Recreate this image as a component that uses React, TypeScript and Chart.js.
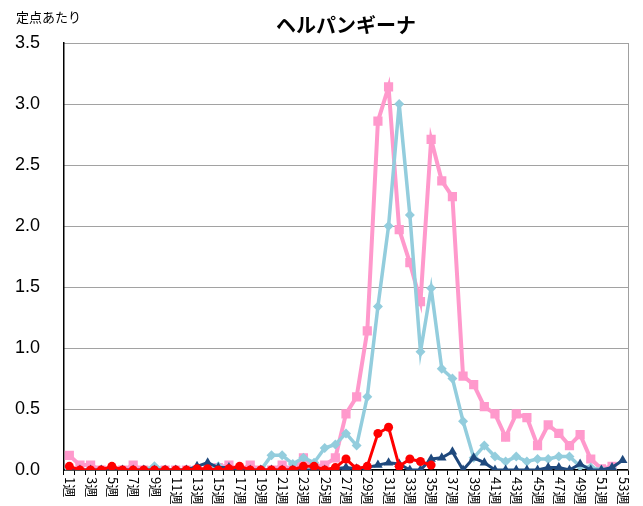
import React, { useEffect, useRef } from 'react';
import { Chart, registerables } from 'chart.js';

Chart.register(...registerables);

const chartTitle = 'ヘルパンギーナ';
const yUnitLabel = '定点あたり';

const weeks = [
  '1週', '2週', '3週', '4週', '5週', '6週', '7週', '8週', '9週', '10週',
  '11週', '12週', '13週', '14週', '15週', '16週', '17週', '18週', '19週', '20週',
  '21週', '22週', '23週', '24週', '25週', '26週', '27週', '28週', '29週', '30週',
  '31週', '32週', '33週', '34週', '35週', '36週', '37週', '38週', '39週', '40週',
  '41週', '42週', '43週', '44週', '45週', '46週', '47週', '48週', '49週', '50週',
  '51週', '52週', '53週',
];

const pinkSeries = [
  0.12, 0.04, 0.04, 0, 0, 0, 0.04, 0, 0, 0,
  0, 0, 0, 0, 0.02, 0.04, 0, 0.04, 0, 0,
  0.04, 0, 0.1, 0.03, 0.04, 0.1, 0.46, 0.6, 1.14, 2.86,
  3.14, 1.97, 1.7, 1.38, 2.71, 2.37, 2.24, 0.77, 0.7, 0.52,
  0.46, 0.27, 0.46, 0.43, 0.2, 0.37, 0.3, 0.2, 0.29, 0.09,
  0.01, 0.03, null,
];

const lightBlueSeries = [
  0, 0, 0, 0, 0, 0, 0, 0, 0.03, 0,
  0, 0, 0, 0, 0.03, 0, 0, 0, 0, 0.12,
  0.12, 0.05, 0.1, 0.06, 0.18, 0.21, 0.3, 0.2, 0.6, 1.34,
  2.0, 3.0, 2.09, 0.97, 1.49, 0.83, 0.75, 0.4, 0.1, 0.2,
  0.11, 0.07, 0.11, 0.07, 0.09, 0.09, 0.11, 0.11, 0.03, 0.02,
  0, 0.01, null,
];

const navySeries = [
  0, 0, 0, 0, 0, 0, 0, 0, 0, 0,
  0, 0, 0.03, 0.06, 0.02, 0.02, 0, 0, 0, 0,
  0, 0, 0, 0, 0, 0.01, 0.02, 0.01, 0.02, 0.04,
  0.06, 0.05, 0, 0, 0.09, 0.1, 0.15, 0, 0.1, 0.06,
  0, 0, 0, 0, 0, 0.02, 0.02, 0, 0.05, 0,
  0, 0.02, 0.08,
];

const redSeries = [
  0.03, 0, 0, 0, 0.03, 0, 0, 0, 0, 0,
  0, 0, 0.01, 0.01, 0, 0.01, 0.03, 0, 0, 0,
  0, 0, 0.03, 0.03, 0, 0.02, 0.09, 0.01, 0.03, 0.3,
  0.35, 0.03, 0.09, 0.07, 0.04, null, null, null, null, null,
  null, null, null, null, null, null, null, null, null, null,
  null, null, null,
];

const yMin = 0;
const yMax = 3.5;
const yStep = 0.5;

const decorPlugin = {
  id: 'decor',
  beforeDatasetsDraw(chart: any) {
    const { ctx, chartArea } = chart;
    ctx.save();
    ctx.strokeStyle = '#a0a0a0';
    ctx.lineWidth = 1;
    ctx.beginPath();
    ctx.moveTo(Math.round(chartArea.right) + 0.5, chartArea.top);
    ctx.lineTo(Math.round(chartArea.right) + 0.5, chartArea.bottom);
    ctx.stroke();
    ctx.restore();
  },
  afterDraw(chart: any) {
    const { ctx, chartArea } = chart;
    const x = chart.scales.x;
    ctx.save();
    ctx.fillStyle = '#000';
    ctx.font = 'bold 20px "Noto Sans CJK JP", sans-serif';
    ctx.textAlign = 'center';
    ctx.textBaseline = 'middle';
    ctx.fillText(chartTitle, (chartArea.left + chartArea.right) / 2, 25);

    ctx.font = '13px "Noto Sans CJK JP", sans-serif';
    ctx.textAlign = 'left';
    ctx.fillText(yUnitLabel, 16, 17);

    ctx.font = '13px "Noto Sans CJK JP", sans-serif';
    weeks.forEach((w, i) => {
      if (i % 2 !== 0) return;
      const px = x.getPixelForValue(i);
      ctx.save();
      ctx.translate(px + 1, chartArea.bottom + 7);
      ctx.rotate(Math.PI / 2);
      ctx.textAlign = 'left';
      ctx.textBaseline = 'middle';
      ctx.fillText(w, 0, 0);
      ctx.restore();
    });
    ctx.restore();
  },
};

export default function App() {
  const canvasRef = useRef<HTMLCanvasElement | null>(null);

  useEffect(() => {
    const canvas = canvasRef.current;
    if (!canvas) return;
    const chart = new Chart(canvas, {
      type: 'line',
      data: {
        labels: weeks,
        datasets: [
          {
            label: 'red',
            data: redSeries,
            borderColor: '#ff0000',
            backgroundColor: '#ff0000',
            pointStyle: 'circle',
            pointRadius: 4.5,
            borderWidth: 3,
            pointBorderWidth: 0,
            tension: 0,
            spanGaps: false,
          },
          {
            label: 'navy',
            data: navySeries,
            borderColor: '#1f497d',
            backgroundColor: '#1f497d',
            pointStyle: 'triangle',
            pointRadius: 5.5,
            borderWidth: 3,
            pointBorderWidth: 0,
            tension: 0,
          },
          {
            label: 'lightblue',
            data: lightBlueSeries,
            borderColor: '#93cddd',
            backgroundColor: '#93cddd',
            pointStyle: 'rectRot',
            pointRadius: 5,
            borderWidth: 3.5,
            pointBorderWidth: 0,
            tension: 0,
          },
          {
            label: 'pink',
            data: pinkSeries,
            borderColor: '#ff99cc',
            backgroundColor: '#ff99cc',
            pointStyle: 'rect',
            pointRadius: 6.5,
            borderWidth: 4,
            pointBorderWidth: 0,
            tension: 0,
          },
        ],
      },
      options: {
        animation: false,
        responsive: false,
        maintainAspectRatio: false,
        layout: { padding: { top: 43, right: 15, left: 0, bottom: 0 } },
        plugins: {
          legend: { display: false },
          title: { display: false },
          tooltip: { enabled: false },
        },
        scales: {
          x: {
            type: 'category',
            offset: true,
            grid: {
              display: true,
              offset: true,
              drawOnChartArea: false,
              drawTicks: true,
              tickLength: 5,
              color: '#000',
            },
            border: { display: true, color: '#000', width: 1.5 },
            ticks: { display: false, autoSkip: false },
            afterFit: (scale: any) => {
              scale.height = 36;
            },
          },
          y: {
            min: yMin,
            max: yMax,
            grid: {
              color: '#444',
              lineWidth: 1,
              drawTicks: false,
            },
            border: { display: true, color: '#000', width: 1.5, dash: [1, 1] },
            ticks: {
              stepSize: yStep,
              padding: 24,
              color: '#000',
              font: { family: '"Liberation Sans", Arial, sans-serif', size: 18 },
              callback: (v: any) => Number(v).toFixed(1),
            },
            afterFit: (scale: any) => {
              scale.width = 64;
            },
          },
        },
      },
      plugins: [decorPlugin],
    });
    return () => chart.destroy();
  }, []);

  return (
    <div style={{ position: 'fixed', left: 0, top: 0, width: 643, height: 506, background: '#fff' }}>
      <canvas ref={canvasRef} width={643} height={506} style={{ width: 643, height: 506, display: 'block' }} />
    </div>
  );
}
